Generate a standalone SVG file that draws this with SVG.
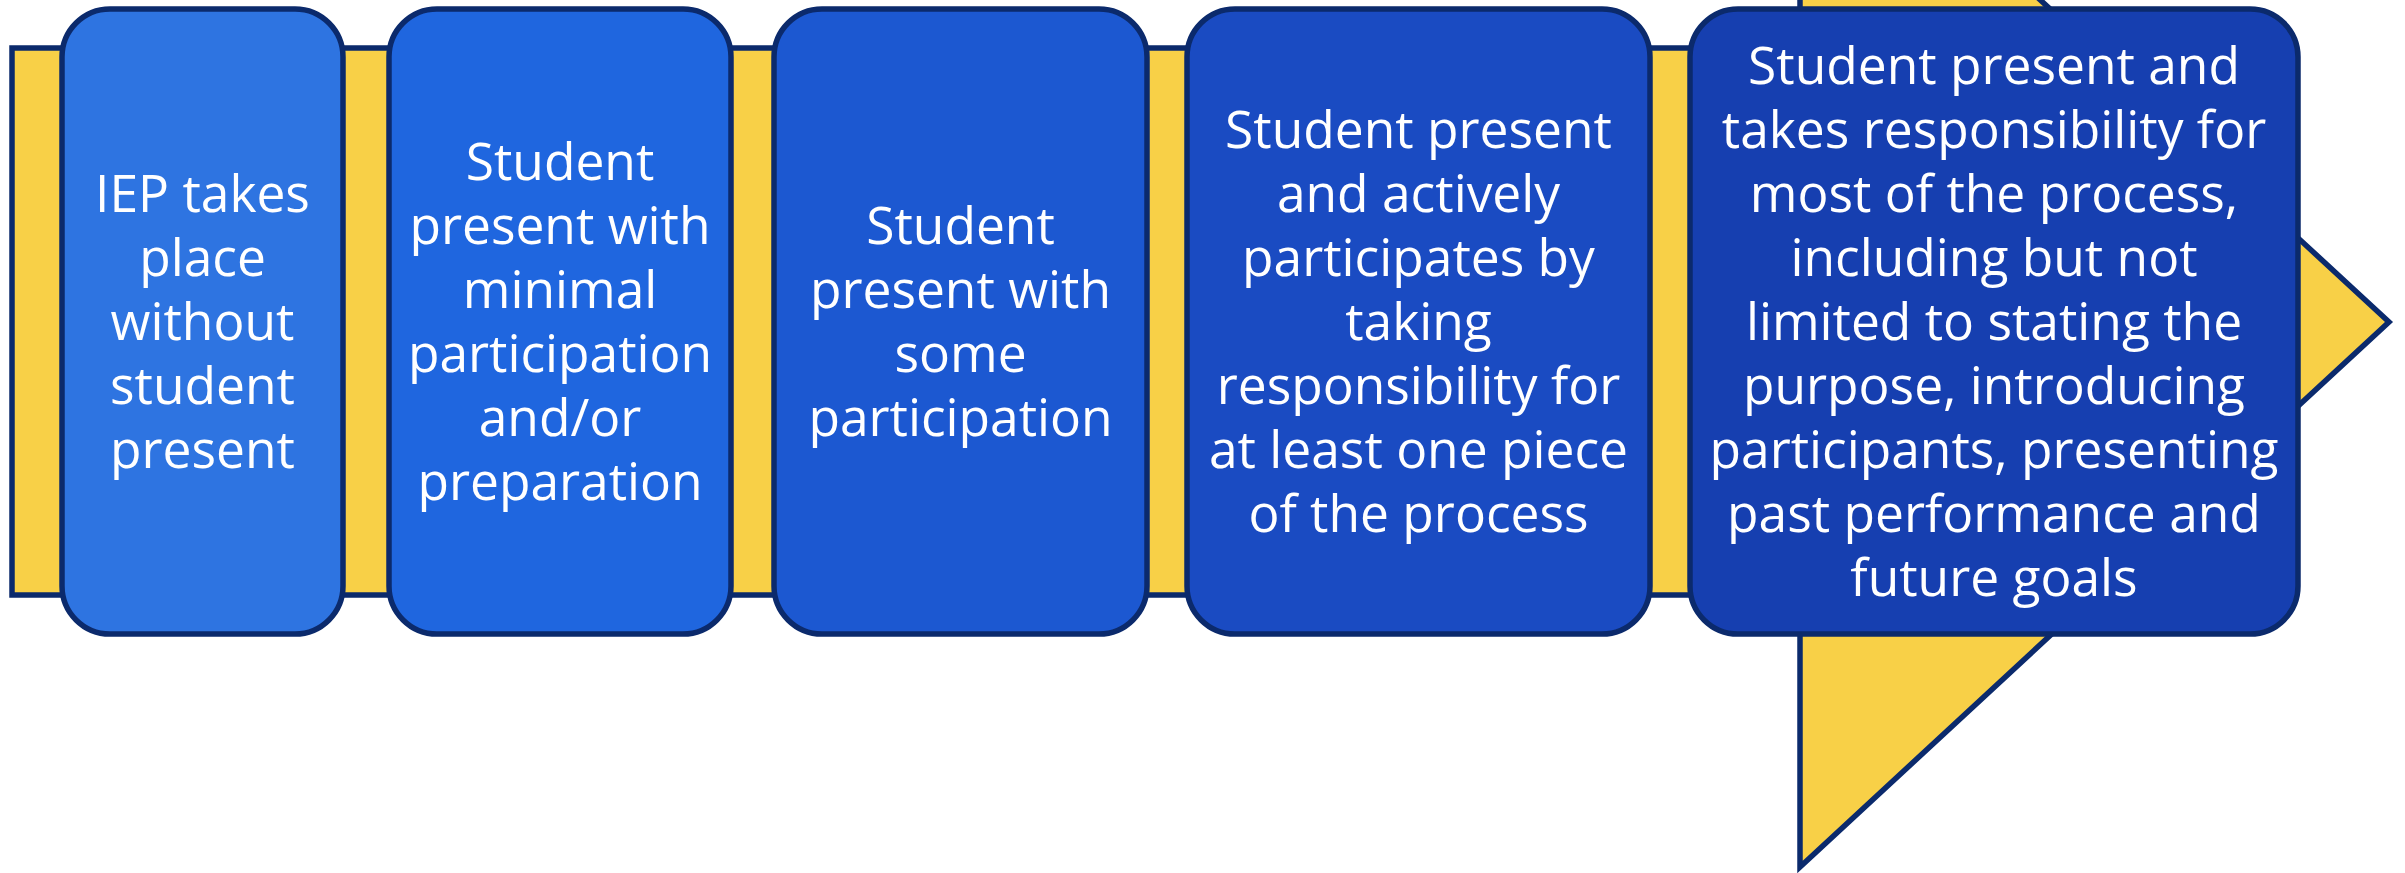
<svg xmlns="http://www.w3.org/2000/svg" width="2405" height="873" viewBox="0 0 2405 873">
<style>
.box{stroke:#0B2A6C;stroke-width:5.5}
.lbl{font-family:"Open Sans","Noto Sans",sans-serif;font-size:51.5px;fill:#FFFFFF;text-anchor:middle}
</style>
<rect width="2405" height="873" fill="#FFFFFF"/>
<g id="connectors">
<path d="M12,48 H1800 V-222 L2389,322 L1800,867 V595 H12 Z" fill="#F8D047" stroke="#0B2A6C" stroke-width="5.5" stroke-linejoin="miter"/>
</g>
<g id="node1">
<rect class="box" x="62" y="9" width="281" height="625" rx="48" fill="#2E74E1"/>
<text class="lbl"><tspan x="202.5" y="212">IEP takes</tspan><tspan x="202.5" y="276">place</tspan><tspan x="202.5" y="340">without</tspan><tspan x="202.5" y="404">student</tspan><tspan x="202.5" y="468">present</tspan></text>
</g>
<g id="node2">
<rect class="box" x="389" y="9" width="342" height="625" rx="48" fill="#1F66DF"/>
<text class="lbl"><tspan x="560" y="180">Student</tspan><tspan x="560" y="244">present with</tspan><tspan x="560" y="308">minimal</tspan><tspan x="560" y="372">participation</tspan><tspan x="560" y="436">and/or</tspan><tspan x="560" y="500">preparation</tspan></text>
</g>
<g id="node3">
<rect class="box" x="774" y="9" width="373" height="625" rx="48" fill="#1C58D1"/>
<text class="lbl"><tspan x="960.5" y="244">Student</tspan><tspan x="960.5" y="308">present with</tspan><tspan x="960.5" y="372">some</tspan><tspan x="960.5" y="436">participation</tspan></text>
</g>
<g id="node4">
<rect class="box" x="1187" y="9" width="463" height="625" rx="48" fill="#1A4BC2"/>
<text class="lbl"><tspan x="1418.5" y="148">Student present</tspan><tspan x="1418.5" y="212">and actively</tspan><tspan x="1418.5" y="276">participates by</tspan><tspan x="1418.5" y="340">taking</tspan><tspan x="1418.5" y="404">responsibility for</tspan><tspan x="1418.5" y="468">at least one piece</tspan><tspan x="1418.5" y="532">of the process</tspan></text>
</g>
<g id="node5">
<rect class="box" x="1690" y="9" width="608" height="625" rx="48" fill="#163FB0"/>
<text class="lbl"><tspan x="1994" y="84">Student present and</tspan><tspan x="1994" y="148">takes responsibility for</tspan><tspan x="1994" y="212">most of the process,</tspan><tspan x="1994" y="276">including but not</tspan><tspan x="1994" y="340">limited to stating the</tspan><tspan x="1994" y="404">purpose, introducing</tspan><tspan x="1994" y="468">participants, presenting</tspan><tspan x="1994" y="532">past performance and</tspan><tspan x="1994" y="596">future goals</tspan></text>
</g>
</svg>
